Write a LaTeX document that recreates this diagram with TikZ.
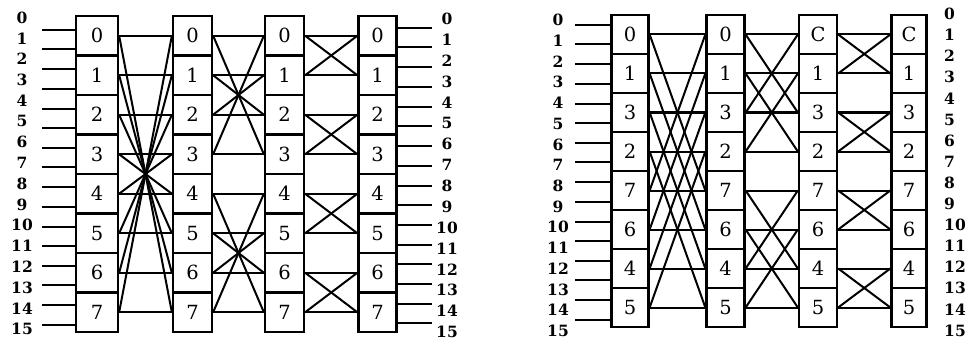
\documentclass[tikz,border=0pt]{standalone}
\usepackage{fontspec}
\newfontfamily\switchfont{DejaVu Serif}
\newfontfamily\portfont{DejaVu Serif}
\begin{document}
\begin{tikzpicture}[x=1pt,y=-1pt,
  switch/.style={draw, line width=2.3pt, minimum height=39.5pt, inner sep=0pt,
    font=\switchfont\fontsize{19.5}{19.5}\selectfont},
  link/.style={line width=2pt},
  port/.style={inner sep=0pt, font=\portfont\bfseries\fontsize{15.5}{15.5}\selectfont}]
\useasboundingbox (0,0) rectangle (965,342);

% ---------- left network: switches numbered in natural order ----------
\foreach \c/\x/\w in {1/97/42,2/192.5/39,3/284.5/39,4/377.5/38}
  \foreach \p in {0,...,7}
    \node[switch, minimum width=\w pt] (L\c-\p) at (\x, 35.75+39.5*\p) {\p};

% stage 1: i <-> 7-i
\foreach \p/\q in {0/7,1/6,2/5,3/4,4/3,5/2,6/1,7/0} {
  \draw[link] (L1-\p.east) -- (L2-\p.west);
  \draw[link] (L1-\p.east) -- (L2-\q.west);
}
% stage 2: i <-> 3-i inside groups of four
\foreach \p/\q in {0/3,1/2,2/1,3/0,4/7,5/6,6/5,7/4} {
  \draw[link] (L2-\p.east) -- (L3-\p.west);
  \draw[link] (L2-\p.east) -- (L3-\q.west);
}
% stage 3: exchange inside pairs
\foreach \p/\q in {0/1,1/0,2/3,3/2,4/5,5/4,6/7,7/6} {
  \draw[link] (L3-\p.east) -- (L4-\p.west);
  \draw[link] (L3-\p.east) -- (L4-\q.west);
}

% terminals of the left network
\foreach \k in {0,...,15} {
  \pgfmathsetmacro\yin{30+39.3*floor(\k/2)+19.5*mod(\k,2)}
  \pgfmathsetmacro\yout{28+39.4*floor(\k/2)+19.5*mod(\k,2)}
  \coordinate (Lin\k) at (42,\yin);
  \coordinate (Lout\k) at (432,\yout);
  \draw[link] (Lin\k) -- (Lin\k -| L1-0.west);
  \draw[link] (Lout\k -| L4-0.east) -- (Lout\k);
  \node[port] (Linnum\k) at (22,17.5+20.77*\k) {\k};
  \node[port] (Loutnum\k) at (447,19+20.87*\k) {\k};
}

% ---------- right network: switches in Gray-code order ----------
\foreach \c/\x/\w in {1/630/37,2/725.5/38}
  \foreach \p/\t in {0/0,1/1,2/3,3/2,4/7,5/6,6/4,7/5}
    \node[switch, minimum height=39pt, minimum width=\w pt] (R\c-\p) at (\x, 34.5+39*\p) {\t};
\foreach \c/\x/\w in {3/818/38,4/909/35}
  \foreach \p/\t in {0/C,1/1,2/3,3/2,4/7,5/6,6/4,7/5}
    \node[switch, minimum height=39pt, minimum width=\w pt] (R\c-\p) at (\x, 34.5+39*\p) {\t};

% stage 1: distance four
\foreach \p/\q in {0/4,1/5,2/6,3/7,4/0,5/1,6/2,7/3} {
  \draw[link] (R1-\p.east) -- (R2-\p.west);
  \draw[link] (R1-\p.east) -- (R2-\q.west);
}
% stage 2: distance two
\foreach \p/\q in {0/2,1/3,2/0,3/1,4/6,5/7,6/4,7/5} {
  \draw[link] (R2-\p.east) -- (R3-\p.west);
  \draw[link] (R2-\p.east) -- (R3-\q.west);
}
% stage 3: distance one
\foreach \p/\q in {0/1,1/0,2/3,3/2,4/5,5/4,6/7,7/6} {
  \draw[link] (R3-\p.east) -- (R4-\p.west);
  \draw[link] (R3-\p.east) -- (R4-\q.west);
}

% terminals of the right network
\foreach \k in {0,...,15} {
  \pgfmathsetmacro\yin{25+39.3*floor(\k/2)+19.5*mod(\k,2)}
  \coordinate (Rin\k) at (575,\yin);
  \draw[link] (Rin\k) -- (Rin\k -| R1-0.west);
  \node[port] (Rinnum\k) at (558,20+20.73*\k) {\k};
  \node[port, anchor=west] (Routnum\k) at (944,14+21.1*\k) {\k};
}
\end{tikzpicture}
\end{document}
